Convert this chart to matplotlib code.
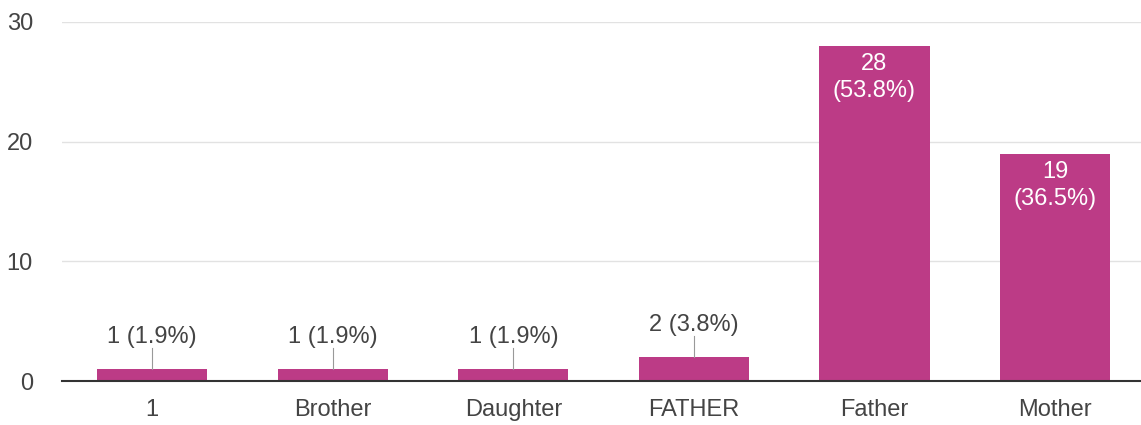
import matplotlib
matplotlib.use("Agg")
import matplotlib.pyplot as plt

categories = ["1", "Brother", "Daughter", "FATHER", "Father", "Mother"]
counts = [1, 1, 1, 2, 28, 19]
percents = ["1.9%", "1.9%", "1.9%", "3.8%", "53.8%", "36.5%"]
yticks = [0, 10, 20, 30]

bar_color = "#bc3b86"
text_color = "#444444"

plt.rcParams['font.family'] = ['Liberation Sans', 'DejaVu Sans']

fig = plt.figure(figsize=(11.41, 4.25), dpi=100)
ax = fig.add_axes([62 / 1141, 44 / 425, 1079 / 1141, 359 / 425])

x = list(range(len(categories)))
ax.bar(x, counts, width=0.61, color=bar_color, zorder=2)

ax.set_xlim(-0.5, 5.476)
ax.set_ylim(0, 30)
ax.set_yticks(yticks)
ax.set_xticks(x)
ax.set_xticklabels(categories)
ax.tick_params(axis='both', length=0, labelsize=17, colors=text_color)
ax.tick_params(axis='y', pad=21)
ax.tick_params(axis='x', pad=13)

ax.grid(axis='y', color='#e2e2e2', linewidth=1, zorder=0)
ax.set_axisbelow(True)
for s in ['top', 'right', 'left']:
    ax.spines[s].set_visible(False)
ax.spines['bottom'].set_color('#333333')
ax.spines['bottom'].set_linewidth(1.5)
ax.spines['bottom'].set_zorder(3)

# value labels
for i, (c, p) in enumerate(zip(counts, percents)):
    if c > 10:
        ax.text(i, c - 0.6, f"{c}\n({p})", ha='center', va='top',
                color='white', fontsize=17, linespacing=1.3, zorder=4)
    else:
        ax.plot([i, i], [c, c + 1.75], color='#999999', linewidth=0.8, zorder=3)
        ax.text(i, c + 1.75, f"{c} ({p})", ha='center', va='bottom',
                color=text_color, fontsize=17, zorder=4)

fig.savefig("out.png", dpi=100)
